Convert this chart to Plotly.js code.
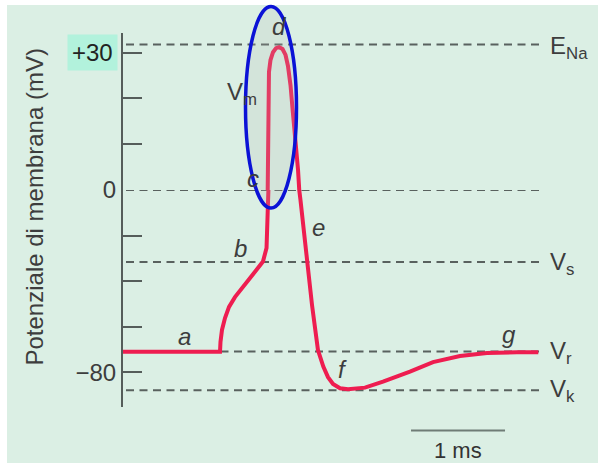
<!DOCTYPE html>
<html>
<head>
<meta charset="utf-8">
<script src="https://cdn.plot.ly/plotly-3.0.1.min.js"></script>
<style>html,body{margin:0;padding:0;background:#fff;}#chart{width:598px;height:464px;}</style>
</head>
<body>
<div id="chart"></div>
<script>
// Action potential trace (time in ms, membrane potential in mV)
const timeMs = [0.000, 1.032, 1.037, 1.053, 1.085, 1.128, 1.191, 1.277, 1.383, 1.489, 1.527, 1.537,
  1.543, 1.546, 1.553, 1.569, 1.596, 1.628, 1.660, 1.697, 1.729, 1.755, 1.782, 1.803, 1.830, 1.862,
  1.888, 1.954, 2.011, 2.074, 2.131, 2.181, 2.234, 2.309, 2.394, 2.574, 2.766, 3.053, 3.298, 3.585,
  3.872, 4.191, 4.418];
const vm = [-71.0, -71.0, -66.7, -61.4, -56.2, -51.3, -47.0, -42.4, -36.5, -31.4, -25.4, -4.4,
  8.7, 19.7, 25.8, 28.4, 30.1, 31.0, 31.2, 30.8, 29.5, 27.1, 22.9, 17.9, 12.0, 4.4,
  -4.4, -31.2, -50.5, -70.2, -77.5, -82.1, -85.1, -87.0, -87.4, -86.7, -84.1, -79.7, -75.5, -72.8,
  -71.5, -71.2, -71.2];

// Reference potentials (mV)
const refNames = ['E<sub>Na</sub>', '', 'V<sub>s</sub>', 'V<sub>r</sub>', 'V<sub>k</sub>'];
const refValues = [31.8, 0, -31.6, -70.9, -87.8];

// Phase labels
const phaseLabels = ['a', 'b', 'c', 'd', 'e', 'f', 'g'];

// Axis ticks
const lowTickVals = [-80, -60, -40, -20, 0];
const lowTickText = ['\u221280', '', '', '', '0'];
const highTickVals = [10, 20, 30];
const highTickText = ['', '', ''];
const topTickLabel = '+30';
const topTickValue = 30;

const scaleBarMs = 1;
const scaleBarStart = 3.064;

// ---- layout helpers (pixel -> paper) ----
const L = 123, T = 33, W = 422, H = 374;
const px = x => (x - L) / W;
const py = y => (T + H - y) / H;
const split = py(190);

const textCol = '#3d3d3d';
const font = 'Liberation Sans, Arial, sans-serif';
const fs = 24;

const curveStyle = {color: '#ee1d50', width: 4};
const traces = [
  {x: timeMs, y: vm, xaxis: 'x', yaxis: 'y', mode: 'lines', line: curveStyle, hoverinfo: 'skip'},
  {x: timeMs, y: vm, xaxis: 'x', yaxis: 'y2', mode: 'lines', line: curveStyle, hoverinfo: 'skip'}
];

const shapes = [];
shapes.push({type: 'rect', layer: 'below', xref: 'paper', yref: 'paper',
  x0: px(7), x1: px(598), y0: py(463), y1: py(5), fillcolor: '#dbefe4', line: {width: 0}});
refValues.forEach(v => {
  shapes.push({type: 'line', layer: 'below', xref: 'paper', yref: v > 0 ? 'y2' : 'y',
    x0: px(126), x1: px(543), y0: v, y1: v, line: {color: '#59615e', width: 2, dash: '8px,5.5px'}});
});
// scale bar
shapes.push({type: 'line', xref: 'x', yref: 'paper', x0: scaleBarStart, x1: scaleBarStart + scaleBarMs,
  y0: py(430.5), y1: py(430.5), line: {color: '#6f7c76', width: 2}});
// highlight ellipse
shapes.push({type: 'circle', layer: 'above', xref: 'paper', yref: 'paper',
  x0: px(245.5), x1: px(296.5), y0: py(208), y1: py(6.5),
  fillcolor: 'rgba(180,185,182,0.2)', line: {color: '#0b12d6', width: 3.5}});

const labelPos = [[184, 336], [240, 248], [253, 178], [279, 27], [318, 227], [342, 369], [509, 334]];
const annotations = phaseLabels.map((t, i) => ({
  text: '<i>' + t + '</i>', xref: 'paper', yref: 'paper', x: px(labelPos[i][0]), y: py(labelPos[i][1]),
  xanchor: 'center', yanchor: 'middle', showarrow: false, font: {family: font, size: fs, color: textCol}
}));
annotations.push({text: 'V<sub>m</sub>', xref: 'paper', yref: 'paper', x: px(225), y: py(93),
  xanchor: 'left', yanchor: 'middle', showarrow: false, font: {family: font, size: fs, color: textCol}});
const refLabelY = [47, 0, 263, 352, 390];
refNames.forEach((n, i) => {
  if (!n) return;
  annotations.push({text: n, xref: 'paper', yref: 'paper', x: px(548), y: py(refLabelY[i]),
    xanchor: 'left', yanchor: 'middle', showarrow: false, font: {family: font, size: fs, color: textCol}});
});
annotations.push({text: topTickLabel, xref: 'paper', yref: 'y2', x: 0, y: topTickValue, xshift: -5,
  xanchor: 'right', yanchor: 'middle', showarrow: false, bgcolor: '#b2f2dc', borderpad: 4,
  font: {family: font, size: fs, color: '#222'}});
annotations.push({text: 'Potenziale di membrana (mV)', xref: 'paper', yref: 'paper',
  x: px(34), y: py(207.5), textangle: -90, xanchor: 'center', yanchor: 'middle', showarrow: false,
  font: {family: font, size: fs, color: textCol}});
annotations.push({text: '1 ms', xref: 'x', yref: 'paper', x: scaleBarStart + scaleBarMs / 2, y: py(450),
  xanchor: 'center', yanchor: 'middle', showarrow: false, font: {family: font, size: fs - 2, color: '#333'}});

const axisCommon = {showline: true, linecolor: '#555d5a', linewidth: 2, ticks: 'inside', ticklen: 19,
  tickwidth: 2, tickcolor: '#555d5a', showgrid: false, zeroline: false, tickmode: 'array',
  tickfont: {family: font, size: fs, color: textCol}, anchor: 'x', fixedrange: true};

const layout = {
  width: 598, height: 464,
  margin: {l: L, r: 598 - L - W, t: T, b: 464 - T - H, pad: 0},
  paper_bgcolor: '#ffffff', plot_bgcolor: 'rgba(0,0,0,0)',
  showlegend: false,
  xaxis: {range: [0, W / 94], visible: false, fixedrange: true},
  yaxis: Object.assign({}, axisCommon, {domain: [0, split], range: [-95.2, 0],
    tickvals: lowTickVals, ticktext: lowTickText}),
  yaxis2: Object.assign({}, axisCommon, {domain: [split, 1], range: [0, 34.3],
    tickvals: highTickVals, ticktext: highTickText}),
  shapes: shapes,
  annotations: annotations
};

Plotly.newPlot('chart', traces, layout, {staticPlot: true, displayModeBar: false});
</script>
</body>
</html>
